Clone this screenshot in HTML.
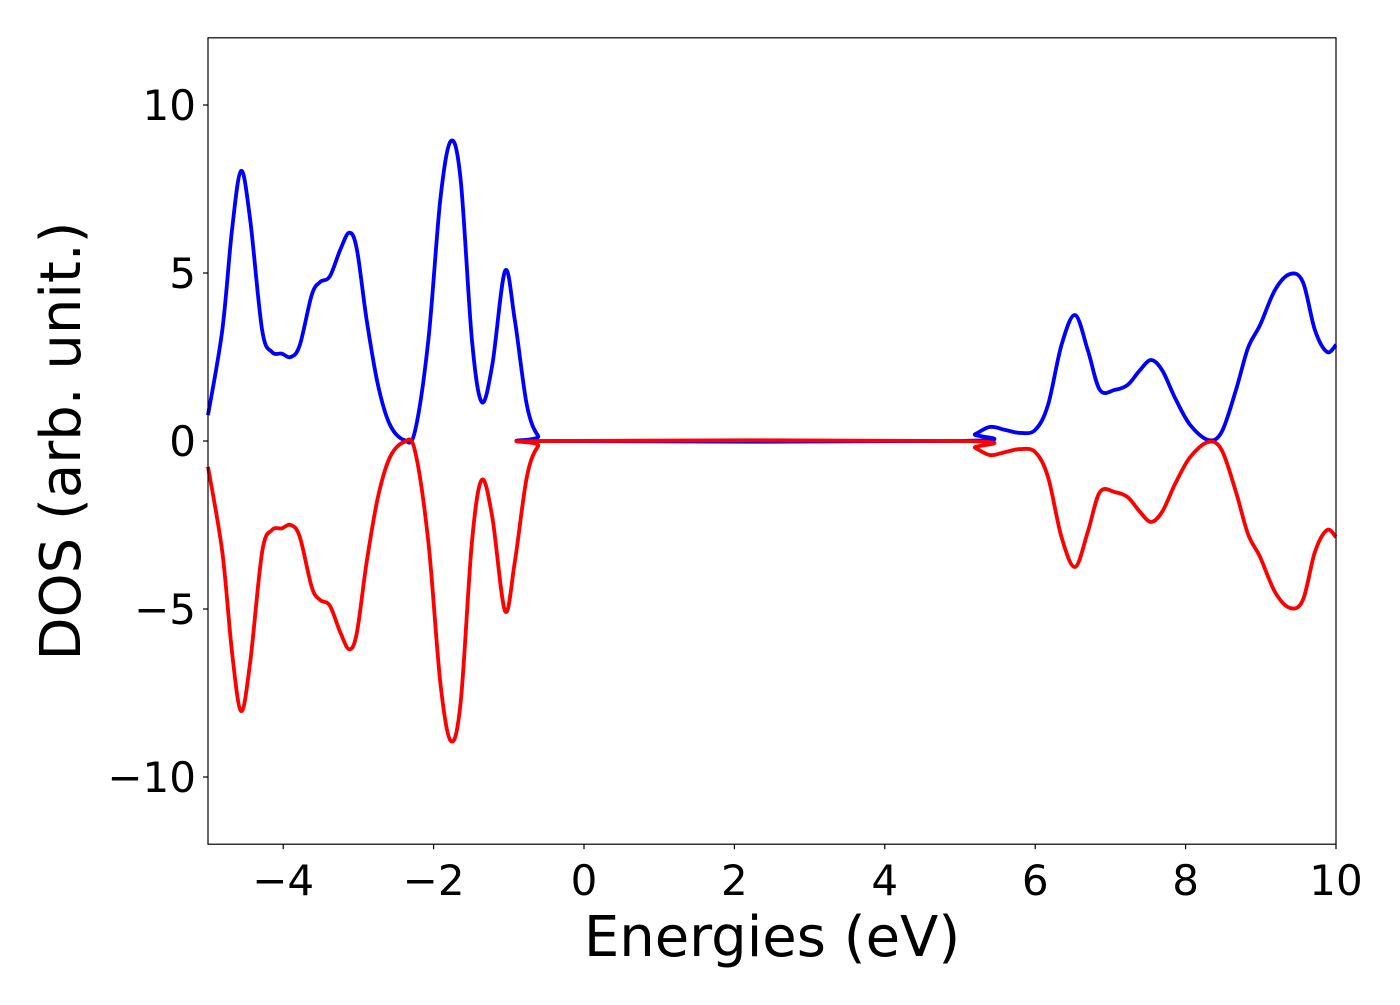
<!DOCTYPE html>
<html><head><meta charset="utf-8"><style>
html,body{margin:0;padding:0;background:#fff;}
svg text{font-family:"DejaVu Sans","Liberation Sans",sans-serif;fill:#000;}
</style></head><body>
<svg id="chart" width="1400" height="1000" viewBox="0 0 1400 1000" xmlns="http://www.w3.org/2000/svg">
<g id="ticks"></g>
<g id="series"></g>
<rect x="208" y="37.8" width="1128" height="806.4" fill="none" stroke="#000" stroke-width="1.2"/>
<text x="772" y="956" font-size="56" text-anchor="middle">Energies (eV)</text>
<text transform="translate(80,441) rotate(-90)" font-size="56" text-anchor="middle">DOS (arb. unit.)</text>
</svg>
<script>
const upX=[-5,-4.81,-4.68,-4.56,-4.44,-4.28,-4.15,-4.02,-3.9,-3.78,-3.62,-3.51,-3.38,-3.24,-3.12,-3.02,-2.89,-2.74,-2.58,-2.39,-2.25,-2.07,-1.91,-1.77,-1.64,-1.49,-1.36,-1.22,-1.05,-0.92,-0.76,-0.61,-0.45,5.0,5.2,5.4,5.6,5.8,6.0,6.17,6.35,6.53,6.7,6.86,7.06,7.23,7.39,7.54,7.69,7.86,8.06,8.3,8.48,8.67,8.83,8.99,9.19,9.39,9.56,9.72,9.88,10];
const upY=[0.77,3.3,6.3,8.04,6.6,3.3,2.65,2.6,2.5,2.85,4.35,4.73,4.9,5.7,6.2,5.7,3.6,1.67,0.48,0.03,0.27,3.0,7.2,8.93,7.77,3.0,1.16,2.26,5.06,3.6,1.07,0.15,0,0,0.2,0.42,0.33,0.24,0.33,1.07,2.86,3.75,2.7,1.52,1.52,1.67,2.1,2.41,2.1,1.28,0.48,0.03,0.27,1.52,2.77,3.45,4.5,4.97,4.73,3.3,2.65,2.86];
const downX=upX.slice();
const downY=[-0.77,-3.3,-6.3,-8.04,-6.6,-3.3,-2.65,-2.6,-2.5,-2.85,-4.35,-4.73,-4.9,-5.7,-6.2,-5.7,-3.6,-1.67,-0.48,-0.03,-0.27,-3.0,-7.2,-8.93,-7.77,-3.0,-1.16,-2.26,-5.06,-3.6,-1.07,-0.15,0,0,-0.2,-0.42,-0.33,-0.24,-0.33,-1.07,-2.86,-3.75,-2.7,-1.52,-1.52,-1.67,-2.1,-2.41,-2.1,-1.28,-0.48,-0.03,-0.27,-1.52,-2.77,-3.45,-4.5,-4.97,-4.73,-3.3,-2.65,-2.86];
const xTicks=[-4,-2,0,2,4,6,8,10];
const xTickLabels=["\u22124","\u22122","0","2","4","6","8","10"];
const yTicks=[-10,-5,0,5,10];
const yTickLabels=["\u221210","\u22125","0","5","10"];

const X0=208,X1=1336,XMIN=-5,XMAX=10,Y0=844.2,Y1=37.8,YMIN=-12,YMAX=12;
const sx=v=>X0+(v-XMIN)/(XMAX-XMIN)*(X1-X0);
const sy=v=>Y0-(v-YMIN)/(YMAX-YMIN)*(Y0-Y1);
const NS="http://www.w3.org/2000/svg";
const tg=document.getElementById('ticks');
xTicks.forEach((t,i)=>{
  const l=document.createElementNS(NS,'line');
  
  
  l.setAttribute('x1',sx(t));l.setAttribute('x2',sx(t));l.setAttribute('y1',Y0);l.setAttribute('y2',Y0+5);
  l.setAttribute('stroke','#000');l.setAttribute('stroke-width','1.2');tg.appendChild(l);
  const tx=document.createElementNS(NS,'text');
  
  
  tx.setAttribute('x',sx(t));tx.setAttribute('y',Y0+51);tx.setAttribute('font-size','42');tx.setAttribute('text-anchor','middle');
  tx.textContent=xTickLabels[i];tg.appendChild(tx);
});
yTicks.forEach((t,i)=>{
  const l=document.createElementNS(NS,'line');
  
  
  l.setAttribute('x1',X0-5);l.setAttribute('x2',X0);l.setAttribute('y1',sy(t));l.setAttribute('y2',sy(t));
  l.setAttribute('stroke','#000');l.setAttribute('stroke-width','1.2');tg.appendChild(l);
  const tx=document.createElementNS(NS,'text');
  
  
  tx.setAttribute('x',X0-12);tx.setAttribute('y',sy(t)+15);tx.setAttribute('font-size','42');tx.setAttribute('text-anchor','end');
  tx.textContent=yTickLabels[i];tg.appendChild(tx);
});
function pathFor(xs,ys){
  const p=xs.map((x,i)=>[sx(x),sy(ys[i])]);
  let d='M'+p[0][0]+','+p[0][1];
  for(let i=0;i<p.length-1;i++){
    const a=p[Math.max(0,i-1)],b=p[i],c=p[i+1],e=p[Math.min(p.length-1,i+2)];
    const c1=[b[0]+(c[0]-a[0])/6,b[1]+(c[1]-a[1])/6];
    const c2=[c[0]-(e[0]-b[0])/6,c[1]-(e[1]-b[1])/6];
    d+=' C'+c1[0]+','+c1[1]+' '+c2[0]+','+c2[1]+' '+c[0]+','+c[1];
  }
  return d;
}
const sg=document.getElementById('series');
[[upX,upY,'#0000ff','spin-up-line'],[downX,downY,'#ff0000','spin-down-line']].forEach(s=>{
  const p=document.createElementNS(NS,'path');
  
  
  p.setAttribute('d',pathFor(s[0],s[1]));p.setAttribute('fill','none');p.setAttribute('stroke',s[2]);
  p.setAttribute('stroke-width','3.8');p.setAttribute('stroke-linejoin','round');
  sg.appendChild(p);
});
</script>
</body></html>
